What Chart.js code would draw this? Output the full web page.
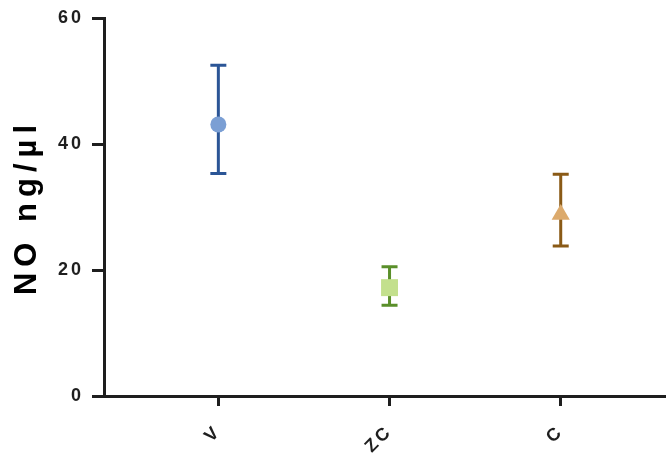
<!DOCTYPE html>
<html>
<head>
<meta charset="utf-8">
<script src="https://cdn.jsdelivr.net/npm/chart.js@4.4.0/dist/chart.umd.min.js"></script>
<style>
  html, body { margin: 0; padding: 0; background: #fff; }
  #wrap { width: 666px; height: 455px; }
</style>
</head>
<body>
<div id="wrap"><canvas id="noChart"></canvas></div>
<script>
  // groups and values
  const groups = ['V', 'ZC', 'C'];
  const means = [43.1, 17.2, 28.8];
  const errHigh = [52.5, 20.5, 35.2];
  const errLow = [35.3, 14.4, 23.8];
  const yTicks = [0, 20, 40, 60];

  const pointColors = ['#7b9fd4', '#c3e08d', '#dcaa6c'];
  const barColors = ['#2b5596', '#5a8f2a', '#8a5a16'];
  const shapes = ['circle', 'rect', 'triangle'];
  const radii = [8, 12, 10.5];

  const ink = '#1e1e1e';
  const noPad = () => ({ left: 0, top: 0, right: 0, bottom: 0 });

  // Error bars drawn from the y scale, under the markers.
  // Also switches letter spacing: the axis title (drawn before datasets) is wider spaced than tick labels.
  const errorBars = {
    id: 'errorBars',
    beforeDatasetsDraw(chart) {
      const { ctx, scales: { x, y } } = chart;
      ctx.letterSpacing = '3px';
      ctx.save();
      ctx.lineWidth = 3;
      groups.forEach((g, i) => {
        const px = x.getPixelForValue(i);
        const top = y.getPixelForValue(errHigh[i]);
        const bot = y.getPixelForValue(errLow[i]);
        ctx.strokeStyle = barColors[i];
        ctx.beginPath();
        ctx.moveTo(px, top); ctx.lineTo(px, bot);
        ctx.moveTo(px - 8, top); ctx.lineTo(px + 8, top);
        ctx.moveTo(px - 8, bot); ctx.lineTo(px + 8, bot);
        ctx.stroke();
      });
      ctx.restore();
    }
  };

  const spacing = {
    id: 'spacing',
    beforeLayout(chart) { chart.ctx.letterSpacing = '3px'; },
    beforeDraw(chart) { chart.ctx.letterSpacing = '6px'; }
  };

  new Chart(document.getElementById('noChart'), {
    type: 'scatter',
    data: {
      datasets: groups.map((g, i) => ({
        label: g,
        data: [{ x: i, y: means[i] }],
        pointStyle: shapes[i],
        pointRadius: radii[i],
        pointHoverRadius: radii[i],
        backgroundColor: pointColors[i],
        borderColor: pointColors[i],
        borderWidth: 0
      }))
    },
    options: {
      responsive: true,
      maintainAspectRatio: false,
      animation: false,
      layout: { autoPadding: false, padding: { top: 18, right: 0, bottom: 0, left: 0 } },
      plugins: {
        legend: { display: false },
        tooltip: { enabled: false }
      },
      scales: {
        x: {
          type: 'linear',
          min: -0.668,
          max: 2.615,
          afterBuildTicks(scale) {
            scale.ticks = groups.map((g, i) => ({ value: i }));
          },
          afterFit(scale) { scale.height = 59; scale.getPadding = noPad; },
          border: { display: true, color: ink, width: 3 },
          grid: { drawOnChartArea: false, drawTicks: true, tickLength: 10, tickColor: ink, lineWidth: 3 },
          ticks: {
            z: 1,
            autoSkip: false,
            minRotation: 45,
            maxRotation: 45,
            padding: 15,
            color: ink,
            font: { family: 'Liberation Sans', size: 18, weight: 'bold' },
            callback: (v) => groups[v]
          }
        },
        y: {
          min: 0,
          max: 60,
          afterBuildTicks(scale) {
            scale.ticks = yTicks.map(v => ({ value: v }));
          },
          afterFit(scale) { scale.width = 104; scale.getPadding = noPad; },
          border: { display: true, color: ink, width: 3 },
          grid: { drawOnChartArea: false, drawTicks: true, tickLength: 12, tickColor: ink, lineWidth: 3 },
          ticks: {
            z: 1,
            padding: 8,
            color: ink,
            font: { family: 'Liberation Sans', size: 18, weight: 'bold' }
          },
          title: {
            display: true,
            text: 'NO ng/µl',
            color: '#000',
            padding: { top: 9, bottom: 0 },
            font: { family: 'Liberation Sans', size: 31, weight: 'bold' }
          }
        }
      }
    },
    plugins: [errorBars, spacing]
  });
</script>
</body>
</html>
